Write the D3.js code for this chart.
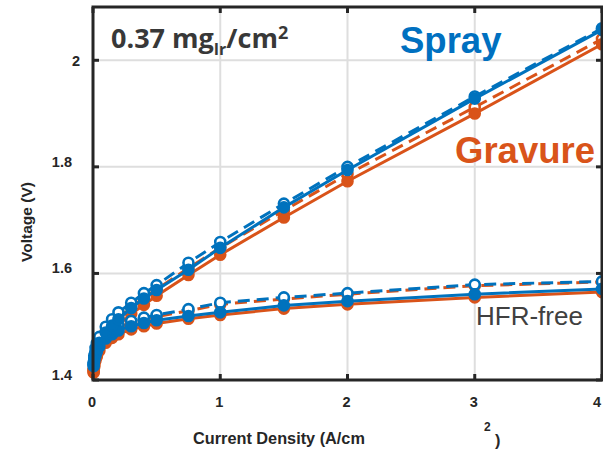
<!DOCTYPE html>
<html><head><meta charset="utf-8">
<script src="https://cdn.jsdelivr.net/npm/d3@7"></script>
<style>html,body{margin:0;padding:0;background:#fff;} svg{display:block;}</style>
</head><body>
<svg id="chart" width="603" height="455"></svg>
<script>
// ---- data ----
const current = [0.005, 0.01, 0.02, 0.03, 0.05, 0.1, 0.15, 0.2, 0.3, 0.4, 0.5, 0.75, 1, 1.5, 2, 3, 4];
const sprayMeasured   = [1.428, 1.440, 1.452, 1.460, 1.470, 1.489, 1.502, 1.514, 1.535, 1.553, 1.569, 1.607, 1.648, 1.724, 1.794, 1.928, 2.057];
const sprayDashed     = [1.433, 1.446, 1.460, 1.469, 1.481, 1.500, 1.514, 1.527, 1.545, 1.563, 1.578, 1.620, 1.659, 1.731, 1.800, 1.932, 2.060];
const gravureMeasured = [1.415, 1.428, 1.442, 1.450, 1.460, 1.478, 1.491, 1.503, 1.524, 1.541, 1.558, 1.597, 1.635, 1.705, 1.773, 1.900, 2.030];
const gravureDashed   = [1.420, 1.434, 1.449, 1.458, 1.470, 1.490, 1.504, 1.516, 1.537, 1.554, 1.570, 1.610, 1.648, 1.718, 1.786, 1.912, 2.040];
const sprayHfrFree        = [1.426, 1.436, 1.446, 1.453, 1.463, 1.478, 1.486, 1.493, 1.501, 1.507, 1.512, 1.520, 1.527, 1.540, 1.548, 1.561, 1.571];
const sprayHfrFreeDashed  = [1.430, 1.441, 1.453, 1.461, 1.473, 1.488, 1.497, 1.503, 1.511, 1.517, 1.522, 1.533, 1.545, 1.555, 1.563, 1.579, 1.585];
const gravureHfrFree      = [1.414, 1.425, 1.437, 1.444, 1.455, 1.470, 1.479, 1.486, 1.495, 1.501, 1.506, 1.515, 1.522, 1.534, 1.542, 1.555, 1.565];
const gravureHfrFreeDashed= [1.419, 1.431, 1.444, 1.452, 1.465, 1.481, 1.491, 1.498, 1.507, 1.513, 1.519, 1.530, 1.542, 1.552, 1.561, 1.577, 1.584];
const xTicks = [0, 1, 2, 3, 4];
const yTicks = [1.4, 1.6, 1.8, 2.0];
const xTickLabels = ["0", "1", "2", "3", "4"];
const yTickLabels = ["1.4", "1.6", "1.8", "2"];

const BLUE = "#0072BD", ORANGE = "#D95319", AX = "#262626";

const svg = d3.select("#chart");
const x = d3.scaleLinear().domain([0, 4]).range([93, 602]);
const y = d3.scaleLinear().domain([1.4, 2.1]).range([380, 7]);

// grid
const grid = svg.append("g");
grid.selectAll("line.gx").data(xTicks.slice(1, 4)).join("line")
  .attr("x1", d => x(d)).attr("x2", d => x(d)).attr("y1", y(2.1)).attr("y2", y(1.4))
  .attr("stroke", "#dedede").attr("stroke-width", 2);
grid.selectAll("line.gy").data(yTicks.slice(1)).join("line")
  .attr("y1", d => y(d)).attr("y2", d => y(d)).attr("x1", x(0)).attr("x2", x(4))
  .attr("stroke", "#dedede").attr("stroke-width", 2);

// series
const series = [
  {v: gravureHfrFreeDashed, c: ORANGE, dash: true},
  {v: gravureHfrFree, c: ORANGE, dash: false},
  {v: gravureDashed, c: ORANGE, dash: true},
  {v: gravureMeasured, c: ORANGE, dash: false},
  {v: sprayHfrFreeDashed, c: BLUE, dash: true},
  {v: sprayHfrFree, c: BLUE, dash: false},
  {v: sprayDashed, c: BLUE, dash: true},
  {v: sprayMeasured, c: BLUE, dash: false}
];
const line = d3.line().x((d, i) => x(current[i])).y(d => y(d));
series.forEach(s => {
  const g = svg.append("g");
  g.append("path").datum(s.v).attr("d", line)
    .attr("fill", "none").attr("stroke", s.c).attr("stroke-width", 3)
    .attr("stroke-dasharray", s.dash ? "12,7" : null);
  g.selectAll("circle").data(s.v).join("circle")
    .attr("cx", (d, i) => x(current[i])).attr("cy", d => y(d)).attr("r", 5)
    .attr("fill", s.dash ? "#fff" : s.c).attr("stroke", s.c).attr("stroke-width", 2.6);
});

// frame + ticks
const ax = svg.append("g");
ax.append("rect").attr("x", x(0)).attr("y", y(2.1)).attr("width", x(4) - x(0)).attr("height", y(1.4) - y(2.1))
  .attr("fill", "none").attr("stroke", AX).attr("stroke-width", 3);
xTicks.forEach(t => {
  ax.append("line").attr("x1", x(t)).attr("x2", x(t)).attr("y1", y(1.4)).attr("y2", y(1.4) - 6).attr("stroke", AX).attr("stroke-width", 3);
  ax.append("line").attr("x1", x(t)).attr("x2", x(t)).attr("y1", y(2.1)).attr("y2", y(2.1) + 6).attr("stroke", AX).attr("stroke-width", 3);
});
yTicks.forEach(t => {
  ax.append("line").attr("y1", y(t)).attr("y2", y(t)).attr("x1", x(0)).attr("x2", x(0) + 6).attr("stroke", AX).attr("stroke-width", 3);
  ax.append("line").attr("y1", y(t)).attr("y2", y(t)).attr("x1", x(4)).attr("x2", x(4) - 6).attr("stroke", AX).attr("stroke-width", 3);
});

const tf = "Liberation Sans, Arial, sans-serif";
// tick labels
svg.append("g").selectAll("text").data(xTicks).join("text")
  .attr("x", d => Math.min(x(d) - 1, 597)).attr("y", 407).attr("text-anchor", "middle")
  .attr("font-family", tf).attr("font-weight", "bold").attr("font-size", 14.5).attr("fill", AX)
  .text((d, i) => xTickLabels[i]);
svg.append("g").selectAll("text").data(yTicks).join("text")
  .attr("x", d => d === 2 ? 80 : 72).attr("y", d => d === 2 ? y(d) + 6 : y(d))
  .attr("text-anchor", "end")
  .attr("font-family", tf).attr("font-weight", "bold").attr("font-size", 14.5).attr("fill", AX)
  .text((d, i) => yTickLabels[i]);

// axis titles
svg.append("text").attr("x", 193).attr("y", 444)
  .attr("font-family", tf).attr("font-weight", "bold").attr("font-size", 16.3).attr("fill", AX)
  .text("Current Density (A/cm");
svg.append("text").attr("x", 484).attr("y", 431)
  .attr("font-family", tf).attr("font-weight", "bold").attr("font-size", 12).attr("fill", AX).text("2");
svg.append("text").attr("x", 495).attr("y", 446)
  .attr("font-family", tf).attr("font-weight", "bold").attr("font-size", 16.3).attr("fill", AX).text(")");
svg.append("text").attr("transform", "translate(32,222) rotate(-90)").attr("text-anchor", "middle")
  .attr("font-family", tf).attr("font-weight", "bold").attr("font-size", 15.5).attr("fill", AX)
  .text("Voltage (V)");

// annotations
const ann = svg.append("text").attr("x", 111).attr("y", 48)
  .attr("font-family", "Open Sans, sans-serif").attr("font-weight", "bold").attr("font-size", 27).attr("fill", "#383838");
ann.append("tspan").text("0.37 mg");
ann.append("tspan").attr("font-size", 16).attr("dy", 7).text("Ir");
ann.append("tspan").attr("dy", -7).text("/cm");
ann.append("tspan").attr("font-size", 18).attr("dy", -9).text("2");

svg.append("text").attr("x", 400).attr("y", 53)
  .attr("font-family", tf).attr("font-weight", "bold").attr("font-size", 36.5).attr("fill", "#0070C0").text("Spray");
svg.append("text").attr("x", 455).attr("y", 163)
  .attr("font-family", tf).attr("font-weight", "bold").attr("font-size", 36.5).attr("fill", "#D9541A").text("Gravure");
svg.append("text").attr("x", 476).attr("y", 325)
  .attr("font-family", tf).attr("font-size", 26).attr("fill", "#404040").text("HFR-free");
</script>
</body></html>
